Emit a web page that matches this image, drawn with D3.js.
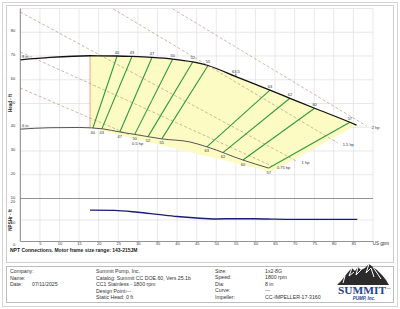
<!DOCTYPE html>
<html>
<head>
<meta charset="utf-8">
<script src="https://cdn.jsdelivr.net/npm/d3@7"></script>
<style>
  body { margin: 0; background: #fff; }
  svg { display: block; font-family: "Liberation Sans", Arial, sans-serif; }
</style>
</head>
<body>
<svg id="chart" width="400" height="309"></svg>
<script>
// 8 in impeller (max) - flow (US gpm) / head (ft)
var flow8 = [0, 7.6, 17.8, 24.7, 28.5, 33.6, 38.9, 44.0, 47.9, 55.0, 63.7, 68.8, 75.1, 84.1, 85.8];
var head8 = [68.4, 69.4, 70.1, 70.0, 69.8, 69.4, 68.7, 67.5, 66.0, 61.3, 55.6, 52.2, 48.0, 42.1, 40.9];

// 6 in impeller (min)
var flow6 = [0, 7.6, 15.2, 21.1, 25.4, 29.2, 36.1, 43.3, 47.9, 56.8, 63.4];
var head6 = [39.2, 39.8, 39.9, 39.3, 38.0, 37.0, 35.1, 33.8, 31.6, 26.2, 22.8];

// iso-efficiency lines: flow where they meet the 8 in and 6 in curves
var isoTopFlow = [24.7, 28.5, 33.6, 38.9, 44.0, 47.9, 63.7, 68.8, 75.1, 84.1];
var isoBotFlow = [18.5, 20.8, 25.4, 29.2, 32.6, 36.1, 47.6, 51.7, 56.8, 63.4];
var isoEff = ["40", "43", "47", "50", "52", "55", "63", "62", "60", "57"];

var bepFlow = 55.0, bepLabel = "63.5";
var minFlow = 17.8;
var regionEnd = [64.2, 21.2]; // lower right corner of preferred region

// horsepower lines
var hpLabels = ["0.5 hp", "0.75 hp", "1 hp", "1.5 hp", "2 hp"];
var hpStart = [[0, 56.5], [0, 71.7], [0, 88.5], [23.7, 89.8], [38.9, 89.8]];
var hpEnd = [[28.0, 36.7], [64.2, 23.7], [70.5, 25.7], [81.0, 33.4], [88.4, 40.5]];

// NPSHr
var npshFlow = [17.8, 24.0, 30.0, 35.0, 40.0, 45.0, 50.0, 55.0, 60.0, 65.0, 70.0, 80.0, 86.0];
var npshVal = [14.6, 14.5, 13.6, 12.6, 11.6, 10.9, 10.5, 10.6, 10.6, 10.4, 10.3, 10.3, 10.3];

var flowTicks = d3.range(5, 90, 5);
var headTicks = [10, 20, 30, 40, 50, 60, 70, 80];
var npshTicks = [0, 10, 20];

var infoLeft = [["Company:", ""], ["Name:", ""], ["Date:", "07/11/2025"]];
var infoMid = ["Summit Pump, Inc.", "Catalog: Summit CC DOE.60, Vers 25.1b", "CC1 Stainless - 1800 rpm"];
var infoMid2 = [["Design Point:", "---"], ["Static Head:", "0 ft"]];
var infoRight = [["Size:", "1x2-8G"], ["Speed:", "1800 rpm"], ["Dia:", "8 in"], ["Curve:", "---"], ["Impeller:", "CC-IMPELLER-17-3160"]];

var svg = d3.select("#chart");

var x = d3.scaleLinear().domain([0, 90]).range([20.3, 373]);
var yH = d3.scaleLinear().domain([10, 90]).range([198.5, 8.5]);
var yN = d3.scaleLinear().domain([0, 20]).range([241.5, 198.5]);

function interp(fx, fy, q) {
    for (var i = 0; i < fx.length - 1; i++) {
        if (q >= fx[i] && q <= fx[i + 1]) {
            var t = (q - fx[i]) / (fx[i + 1] - fx[i]);
            return fy[i] + t * (fy[i + 1] - fy[i]);
        }
    }
    return fy[fy.length - 1];
}

// frames
svg.append("rect").attr("x", 2.5).attr("y", 2.5).attr("width", 395).attr("height", 304)
    .attr("fill", "none").attr("stroke", "#d4d4d4");
svg.append("rect").attr("x", 6.5).attr("y", 5.5).attr("width", 387).attr("height", 257)
    .attr("fill", "none").attr("stroke", "#cfcfcf");
svg.append("rect").attr("x", 6.5).attr("y", 266.5).attr("width", 387).attr("height", 36)
    .attr("fill", "none").attr("stroke", "#bdbdbd");

// grid
var grid = svg.append("g").attr("stroke", "#dedede").attr("stroke-width", 0.7);
grid.selectAll(".v").data(flowTicks.concat([90])).enter().append("line")
    .attr("x1", d => x(d)).attr("x2", d => x(d))
    .attr("y1", yH(90)).attr("y2", yN(0));
grid.selectAll(".h").data([20, 30, 40, 50, 60, 70, 80, 90]).enter().append("line")
    .attr("x1", x(0)).attr("x2", x(90))
    .attr("y1", d => yH(d)).attr("y2", d => yH(d));
grid.append("line").attr("x1", x(0)).attr("x2", x(90))
    .attr("y1", yN(10)).attr("y2", yN(10));

// preferred operating region
var regionTop = [[minFlow, interp(flow8, head8, minFlow)]];
flow8.forEach(function (f, i) { if (f > minFlow) regionTop.push([f, head8[i]]); });
var regionPts = regionTop.concat([regionEnd, [minFlow, interp(flow6, head6, minFlow)]]);
svg.append("path")
    .attr("d", "M" + regionPts.map(p => x(p[0]) + "," + yH(p[1])).join("L") + "Z")
    .attr("fill", "#fdfbc4");

// horsepower lines
var hp = svg.append("g");
hpLabels.forEach(function (lab, i) {
    hp.append("line")
        .attr("x1", x(hpStart[i][0])).attr("y1", yH(hpStart[i][1]))
        .attr("x2", x(hpEnd[i][0])).attr("y2", yH(hpEnd[i][1]))
        .attr("stroke", "#bca88f").attr("stroke-width", 0.8)
        .attr("stroke-dasharray", "3,2");
    hp.append("text")
        .attr("x", x(hpEnd[i][0]) + (i === 0 ? 2 : 5)).attr("y", yH(hpEnd[i][1]) + (i === 0 ? 10 : 3))
        .attr("font-size", 4).attr("fill", "#333").text(lab);
});

// min flow line
svg.append("line")
    .attr("x1", x(minFlow)).attr("x2", x(minFlow))
    .attr("y1", yH(interp(flow8, head8, minFlow))).attr("y2", yH(interp(flow6, head6, minFlow)))
    .attr("stroke", "#f08a7a").attr("stroke-width", 0.8);

// iso efficiency lines
var iso = svg.append("g");
isoEff.forEach(function (e, i) {
    var ht = interp(flow8, head8, isoTopFlow[i]);
    var hb = interp(flow6, head6, isoBotFlow[i]);
    iso.append("line")
        .attr("x1", x(isoTopFlow[i])).attr("y1", yH(ht))
        .attr("x2", x(isoBotFlow[i])).attr("y2", yH(hb))
        .attr("stroke", "#2f9a3e").attr("stroke-width", 1.1);
    iso.append("text").attr("x", x(isoTopFlow[i])).attr("y", yH(ht) - 2.5)
        .attr("text-anchor", "middle").attr("font-size", 4).attr("fill", "#333").text(e);
    iso.append("text").attr("x", x(isoBotFlow[i])).attr("y", yH(hb) + 5.5)
        .attr("text-anchor", "middle").attr("font-size", 4).attr("fill", "#333").text(e);
});
var bepH = interp(flow8, head8, bepFlow);
iso.append("line").attr("x1", x(bepFlow)).attr("x2", x(bepFlow))
    .attr("y1", yH(bepH) - 3).attr("y2", yH(bepH) + 0.5)
    .attr("stroke", "#2f9a3e").attr("stroke-width", 1);
iso.append("text").attr("x", x(bepFlow)).attr("y", yH(bepH) - 4)
    .attr("text-anchor", "middle").attr("font-size", 4).attr("fill", "#333").text(bepLabel);

// impeller curves
var lineH = d3.line().x(d => x(d[0])).y(d => yH(d[1])).curve(d3.curveMonotoneX);
svg.append("path").datum(flow6.map((f, i) => [f, head6[i]]))
    .attr("d", lineH).attr("fill", "none").attr("stroke", "#555").attr("stroke-width", 1);
svg.append("path").datum(flow8.map((f, i) => [f, head8[i]]))
    .attr("d", lineH).attr("fill", "none").attr("stroke", "#111").attr("stroke-width", 1.3);
svg.append("text").attr("x", 22).attr("y", yH(head8[0]) - 2).attr("font-size", 4).attr("fill", "#333").text("8 in");
svg.append("text").attr("x", 22).attr("y", yH(head6[0]) - 2).attr("font-size", 4).attr("fill", "#333").text("6 in");

// NPSHr curve
var lineN = d3.line().x(d => x(d[0])).y(d => yN(d[1])).curve(d3.curveMonotoneX);
svg.append("path").datum(npshFlow.map((f, i) => [f, npshVal[i]]))
    .attr("d", lineN).attr("fill", "none").attr("stroke", "#1b1b78").attr("stroke-width", 1.4);

// axes
function styleAxis(g) {
    g.select(".domain").remove();
    g.selectAll("line").remove();
    g.selectAll("text").attr("font-size", 4).attr("fill", "#333")
        .attr("font-family", "Liberation Sans, Arial, sans-serif");
}
svg.append("g").attr("transform", "translate(" + (x(0) - 2) + ",-1.6)")
    .call(d3.axisLeft(yH).tickValues(headTicks).tickSize(0).tickPadding(3).tickFormat(d3.format("d")))
    .call(styleAxis);
svg.append("g").attr("transform", "translate(" + (x(0) - 2) + ",2.6)")
    .call(d3.axisLeft(yN).tickValues(npshTicks).tickSize(0).tickPadding(3).tickFormat(d3.format("d")))
    .call(styleAxis);
svg.append("g").attr("transform", "translate(0," + (yN(0) - 1.2) + ")")
    .call(d3.axisBottom(x).tickValues(flowTicks).tickSize(0).tickPadding(2).tickFormat(d3.format("d")))
    .call(styleAxis);

svg.append("line").attr("x1", x(0)).attr("x2", x(0)).attr("y1", yH(90)).attr("y2", yN(0))
    .attr("stroke", "#666").attr("stroke-width", 0.8);
svg.append("line").attr("x1", x(0)).attr("x2", x(90)).attr("y1", yH(10)).attr("y2", yH(10))
    .attr("stroke", "#777").attr("stroke-width", 0.8);
svg.append("line").attr("x1", x(0)).attr("x2", x(90)).attr("y1", yN(0)).attr("y2", yN(0))
    .attr("stroke", "#777").attr("stroke-width", 0.8);

svg.append("text").attr("x", 381).attr("y", yN(0) + 3).attr("text-anchor", "middle")
    .attr("font-size", 4.5).attr("fill", "#333").text("US gpm");
svg.append("text").attr("transform", "translate(12,103) rotate(-90)").attr("text-anchor", "middle")
    .attr("font-size", 4.5).attr("font-weight", "bold").attr("fill", "#333").text("Head - ft");
svg.append("text").attr("transform", "translate(12,220) rotate(-90)").attr("text-anchor", "middle")
    .attr("font-size", 4.5).attr("font-weight", "bold").attr("fill", "#333").text("NPSHr - ft");

svg.append("text").attr("x", 10).attr("y", 252).attr("font-size", 5).attr("font-weight", "bold")
    .attr("fill", "#222").text("NPT Connections. Motor frame size range: 143-215JM");

// info block
var info = svg.append("g").attr("font-size", 5.2).attr("fill", "#333");
infoLeft.forEach(function (r, i) {
    info.append("text").attr("x", 10).attr("y", 273 + i * 6.6).text(r[0]);
    info.append("text").attr("x", 32).attr("y", 273 + i * 6.6).text(r[1]);
});
infoMid.forEach(function (t, i) {
    info.append("text").attr("x", 96).attr("y", 273 + i * 6.6).text(t);
});
infoMid2.forEach(function (r, i) {
    info.append("text").attr("x", 96).attr("y", 292.8 + i * 6.6).text(r[0]);
    info.append("text").attr("x", 126).attr("y", 292.8 + i * 6.6).text(r[1]);
});
infoRight.forEach(function (r, i) {
    info.append("text").attr("x", 215).attr("y", 273 + i * 6.4).text(r[0]);
    info.append("text").attr("x", 265).attr("y", 273 + i * 6.4).text(r[1]);
});

// logo
var logo = svg.append("g");
logo.append("path")
    .attr("d", "M337,285 L341,281 L345,276 L349,271 L352,268 L355,271 L358,267 L361,270 L365,268 L369,264 L373,267 L377,270 L382,275 L386,280 L389,285 Z")
    .attr("fill", "#2b2b2b");
logo.append("path")
    .attr("d", "M352,268 L349,276 L354,272 M358,267 L356,275 L361,270 M369,264 L366,273 L371,268 L374,277 M373,267 L381,279 M345,276 L343,283")
    .attr("fill", "none").attr("stroke", "#fff").attr("stroke-width", 1);
logo.append("text").attr("x", 338).attr("y", 294).attr("font-family", "Liberation Serif, serif")
    .attr("font-weight", "bold").attr("font-size", 11).attr("fill", "#24448e")
    .attr("textLength", 48).attr("lengthAdjust", "spacingAndGlyphs").text("SUMMIT");
logo.append("text").attr("x", 387).attr("y", 289).attr("font-size", 2.5).attr("fill", "#24448e").text("TM");
logo.append("text").attr("x", 364).attr("y", 300).attr("text-anchor", "middle")
    .attr("font-weight", "bold").attr("font-style", "italic").attr("font-size", 4.5)
    .attr("fill", "#24448e").text("PUMP, Inc.");
</script>
</body>
</html>
